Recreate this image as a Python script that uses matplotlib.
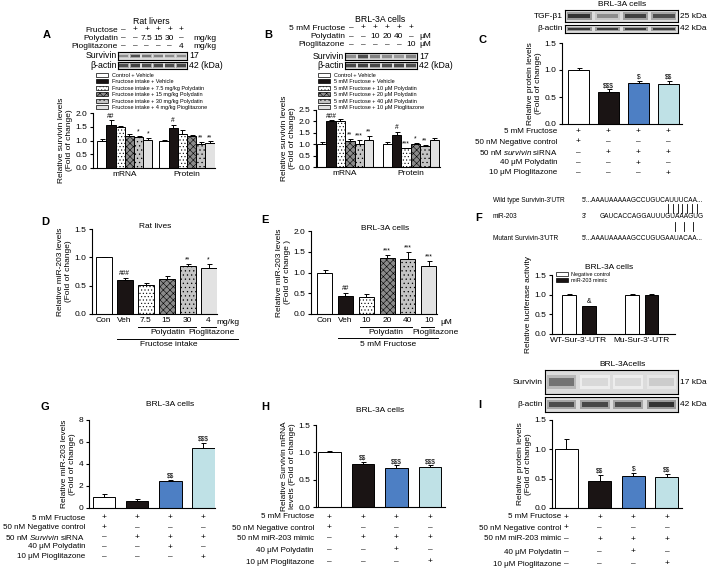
import matplotlib
matplotlib.use('Agg')
import matplotlib.pyplot as plt
from matplotlib.patches import Patch
from matplotlib.lines import Line2D
from matplotlib.transforms import blended_transform_factory

plt.rcParams['font.family'] = ['Liberation Sans', 'DejaVu Sans']
plt.rcParams['mathtext.fontset'] = 'custom'
plt.rcParams['mathtext.it'] = 'Liberation Sans:italic'
plt.rcParams['mathtext.rm'] = 'Liberation Sans'
plt.rcParams['hatch.linewidth'] = 0.4

W, H = 709, 569

# A - rat livers, survivin
a_groups = ['mRNA', 'Protein']
a_vals = [[1.0, 1.57, 1.48, 1.18, 1.13, 1.03], [1.0, 1.45, 1.22, 1.18, 0.88, 0.90]]
a_errs = [[0.05, 0.17, 0.04, 0.05, 0.04, 0.05], [0.02, 0.13, 0.18, 0.02, 0.08, 0.07]]
a_sigs = [['', '##', '', '', '*', '*'], ['', '#', '', '', '**', '**']]
a_legend = ['Control + Vehicle', 'Fructose intake + Vehicle',
            'Fructose intake + 7.5 mg/kg Polydatin', 'Fructose intake + 15 mg/kg Polydatin',
            'Fructose intake + 30 mg/kg Polydatin', 'Fructose intake + 4 mg/kg Pioglitazone']
a_header = [('Fructose', ['–', '+', '+', '+', '+', '+'], ''),
            ('Polydatin', ['–', '–', '7.5', '15', '30', '–'], 'mg/kg'),
            ('Pioglitazone', ['–', '–', '–', '–', '–', '4'], 'mg/kg')]
a_survivin_band = [0.45, 0.7, 0.55, 0.5, 0.45, 0.45]
a_actin_band = [0.7, 0.75, 0.7, 0.72, 0.7, 0.72]

# B - BRL-3A cells, survivin
b_vals = [[1.0, 2.0, 2.02, 1.15, 1.03, 1.2], [1.0, 1.42, 0.82, 1.0, 0.92, 1.18]]
b_errs = [[0.1, 0.05, 0.1, 0.08, 0.15, 0.18], [0.1, 0.12, 0.03, 0.05, 0.05, 0.07]]
b_sigs = [['', '###', '', '**', '***', '**'], ['', '#', '***', '*', '**', '']]
b_legend = ['Control + Vehicle', '5 mM Fructose + Vehicle', '5 mM Fructose + 10 μM Polydatin',
            '5 mM Fructose + 20 μM Polydatin', '5 mM Fructose + 40 μM Polydatin',
            '5 mM Fructose + 10 μM Pioglitazone']
b_header = [('5 mM Fructose', ['–', '+', '+', '+', '+', '+'], ''),
            ('Polydatin', ['–', '–', '10', '20', '40', '–'], 'μM'),
            ('Pioglitazone', ['–', '–', '–', '–', '–', '10'], 'μM')]
b_survivin_band = [0.45, 0.7, 0.5, 0.45, 0.4, 0.5]
b_actin_band = [0.72, 0.75, 0.72, 0.7, 0.72, 0.7]

# C - TGF-b1 protein
c_vals = [1.0, 0.59, 0.76, 0.74]
c_errs = [0.03, 0.05, 0.03, 0.06]
c_sigs = ['', '$$$', '$', '$$']
c_rows = ['5 mM Fructose', '50 nM Negative control', r'50 nM $\it{survivin}$ siRNA',
          '40 μM Polydatin', '10 μM Pioglitazone']
c_tgf_band = [0.8, 0.45, 0.75, 0.7]
c_actin_band = [0.8, 0.78, 0.8, 0.78]

# D - rat miR-203
d_labels = ['Con', 'Veh', '7.5', '15', '30', '4']
d_vals = [1.0, 0.6, 0.51, 0.62, 0.84, 0.82]
d_errs = [0.01, 0.04, 0.04, 0.05, 0.05, 0.07]
d_sigs = ['', '###', '', '', '**', '*']

# E - cells miR-203
e_labels = ['Con', 'Veh', '10', '20', '40', '10']
e_vals = [1.0, 0.44, 0.42, 1.35, 1.33, 1.15]
e_errs = [0.05, 0.07, 0.06, 0.07, 0.17, 0.13]
e_sigs = ['', '##', '', '***', '***', '***']

# F - luciferase
f_groups = ['WT-Sur-3\'-UTR', 'Mu-Sur-3\'-UTR']
f_legend = ['Negative control', 'miR-203 mimic']
f_vals = [[1.0, 0.71], [1.0, 1.0]]
f_errs = [[0.02, 0.01], [0.01, 0.01]]
f_sigs = [['', '&'], ['', '']]

# G, H, I
g_vals = [1.0, 0.65, 2.5, 5.5]
g_errs = [0.3, 0.2, 0.08, 0.45]
g_sigs = ['', '', '$$', '$$$']
g_rows = ['5 mM Fructose', '50 nM Negative control', r'50 nM $\it{Survivin}$ siRNA',
          '40 μM Polydatin', '10 μM Pioglitazone']
h_vals = [1.0, 0.79, 0.72, 0.74]
h_errs = [0.03, 0.03, 0.04, 0.02]
h_sigs = ['', '$$', '$$$', '$$$']
mimic_rows = ['5 mM Fructose', '50 nM Negative control', '50 nM miR-203 mimic',
              '40 μM Polydatin', '10 μM Pioglitazone']
i_vals = [1.0, 0.46, 0.55, 0.52]
i_errs = [0.17, 0.1, 0.04, 0.06]
i_sigs = ['', '$$', '$', '$$']
i_survivin_band = [0.55, 0.15, 0.15, 0.2]
i_actin_band = [0.7, 0.72, 0.7, 0.8]

treat_signs = [['+', '+', '+', '+'], ['+', '–', '–', '–'], ['–', '+', '+', '+'],
               ['–', '–', '+', '–'], ['–', '–', '–', '+']]

six_faces = ['white', '#1a1414', 'white', '#8a8a8a', '#c4c4c4', '#e2e2e2']
six_hatch = [None, None, '.....', 'xxxxx', '....', None]
four_faces = ['white', '#1a1414', '#4d7fc4', '#bfe1e6']

fig = plt.figure(figsize=(W / 100, H / 100), dpi=100)


def px_axes(x0, y0, x1, y1):
    return fig.add_axes([x0 / W, 1 - y1 / H, (x1 - x0) / W, (y1 - y0) / H])


def ftext(x, y, s, **kw):
    kw.setdefault('fontsize', 6)
    kw.setdefault('ha', 'center')
    kw.setdefault('va', 'center')
    fig.text(x / W, 1 - y / H, s, **kw)


def style_axes(ax, ymax, step, fmt, ylabel):
    for s in ('top', 'right'):
        ax.spines[s].set_visible(False)
    ax.spines['left'].set_linewidth(0.8)
    ax.spines['bottom'].set_linewidth(0.8)
    ax.set_ylim(0, ymax)
    ticks = [i * step for i in range(int(round(ymax / step)) + 1)]
    ax.set_yticks(ticks)
    ax.set_yticklabels([fmt.format(t) for t in ticks])
    ax.tick_params(axis='y', direction='out', length=2.5, width=0.8, labelsize=6, pad=1.5)
    ax.tick_params(axis='x', length=0, labelsize=6, pad=2)
    ax.set_ylabel(ylabel, fontsize=6, labelpad=2, linespacing=1.1)
    ax.patch.set_alpha(0)


def draw_bar(ax, x, v, e, sig, face, hatch=None, width=0.75):
    ax.bar(x, v, width=width, color=face, edgecolor='black', hatch=hatch, linewidth=0.7, zorder=2)
    ax.errorbar(x, v, yerr=[[0], [e]], fmt='none', ecolor='black', elinewidth=0.7,
                capsize=1.8, capthick=0.7, zorder=3)
    if sig:
        ax.annotate(sig.replace('$', r'\$'), (x, v + e), xytext=(0, 0.3), textcoords='offset points',
                    ha='center', va='bottom', fontsize=4.8)


def draw_blot(x0, y0, x1, y1, bands):
    ax = px_axes(x0, y0, x1, y1)
    ax.set_facecolor('#dcdcdc')
    ax.set_xlim(0, len(bands))
    ax.set_ylim(0, 1)
    for i, d in enumerate(bands):
        ax.bar(i + 0.5, 0.6, bottom=0.2, width=0.88, color=str(round(1 - d * 0.5, 2)), linewidth=0)
        ax.bar(i + 0.5, 0.36, bottom=0.32, width=0.76, color=str(round(1 - d, 2)), linewidth=0)
    ax.set_xticks([])
    ax.set_yticks([])
    for s in ax.spines.values():
        s.set_linewidth(0.8)
    return ax


def draw_header(blot_ax, header, ys, label_x, unit_x):
    tr = blended_transform_factory(blot_ax.transData, fig.transFigure)
    for (lab, marks, unit), y in zip(header, ys):
        ftext(label_x, y, lab, ha='right', fontsize=6)
        for i, m in enumerate(marks):
            blot_ax.text(i + 0.5, 1 - y / H, m, transform=tr, ha='center', va='center',
                         fontsize=6, clip_on=False)
        if unit:
            ftext(unit_x, y, unit, ha='left', fontsize=6)


def draw_table(ax, rows, ys, label_x):
    tr = blended_transform_factory(ax.transData, fig.transFigure)
    for r, (lab, y) in enumerate(zip(rows, ys)):
        ftext(label_x, y, lab, ha='right', fontsize=5.8)
        for i, s in enumerate(treat_signs[r]):
            ax.text(i, 1 - y / H, s, transform=tr, ha='center', va='center', fontsize=6, clip_on=False)


def bar_legend(labels, faces, hatches, x, y, fs):
    handles = [Patch(facecolor=f, edgecolor='black', hatch=h, linewidth=0.5) for f, h in zip(faces, hatches)]
    fig.legend(handles, labels, loc='upper left', bbox_to_anchor=(x / W, 1 - y / H), fontsize=fs,
               frameon=False, handlelength=2.2, handleheight=0.75, labelspacing=0.25,
               handletextpad=0.6, borderpad=0, borderaxespad=0)


def grouped_panel(ax, vals, errs, sigs, gap, groups):
    for g in range(len(vals)):
        for i in range(len(vals[g])):
            draw_bar(ax, g * gap + i + 0.5, vals[g][i], errs[g][i], sigs[g][i],
                     six_faces[i], six_hatch[i], width=1.0)
    ax.set_xticks([g * gap + 3 for g in range(len(groups))])
    ax.set_xticklabels(groups)


def four_panel(ax, vals, errs, sigs):
    for i in range(4):
        draw_bar(ax, i, vals[i], errs[i], sigs[i], four_faces[i], width=0.68)
    ax.set_xticks([])


def fig_line(ax, x0, x1, y):
    tr = blended_transform_factory(ax.transData, fig.transFigure)
    ax.add_line(Line2D([x0, x1], [1 - y / H] * 2, transform=tr, color='black', lw=0.7, clip_on=False))


def fig_label(ax, x, y, s, **kw):
    tr = blended_transform_factory(ax.transData, fig.transFigure)
    kw.setdefault('ha', 'center')
    ax.text(x, 1 - y / H, s, transform=tr, va='center', fontsize=6, clip_on=False, **kw)


# ---------- panel letters
for letter, (lx, ly) in zip('ABCDEFGHI', [(47, 35), (268, 35), (482, 40), (45, 222), (265, 220),
                                          (479, 218), (45, 407), (265, 407), (480, 405)]):
    ftext(lx, ly, letter, fontsize=8, fontweight='bold')

# ---------- A
ftext(151, 21, 'Rat livers', fontsize=6.3)
blotA = draw_blot(118, 52, 187, 60, a_survivin_band)
draw_blot(118, 62, 187, 69, a_actin_band)
draw_header(blotA, a_header, [30, 38, 46], 118, 193)
ftext(117, 56, 'Survivin', ha='right', fontsize=6.3)
ftext(117, 65.5, 'β-actin', ha='right', fontsize=6.3)
ftext(189, 56, '17', ha='left', fontsize=6.3)
ftext(189, 65.5, '42 (kDa)', ha='left', fontsize=6.3)
bar_legend(a_legend, six_faces, six_hatch, 96, 73, 4.0)
axA = px_axes(93, 113, 215, 168)
grouped_panel(axA, a_vals, a_errs, a_sigs, 6.75, a_groups)
axA.set_xlim(-0.45, 12.8)
style_axes(axA, 2.0, 0.5, '{:.1f}', 'Relative survivin levels\n(Fold of change)')

# ---------- B
ftext(380, 19, 'BRL-3A cells', fontsize=6.3)
blotB = draw_blot(345, 53, 417, 60, b_survivin_band)
draw_blot(345, 62, 417, 69, b_actin_band)
draw_header(blotB, b_header, [28, 36.5, 45], 345, 419)
ftext(344, 56.5, 'Survivin', ha='right', fontsize=6.3)
ftext(344, 65.5, 'β-actin', ha='right', fontsize=6.3)
ftext(419, 56.5, '17', ha='left', fontsize=6.3)
ftext(419, 65.5, '42 (kDa)', ha='left', fontsize=6.3)
bar_legend(b_legend, six_faces, six_hatch, 318, 73, 4.0)
axB = px_axes(316, 110, 440, 167)
grouped_panel(axB, b_vals, b_errs, b_sigs, 7, a_groups)
axB.set_xlim(-0.1, 13.1)
style_axes(axB, 2.5, 0.5, '{:.1f}', 'Relative survivin levels\n(Fold of change)')

# ---------- C
ftext(622, 4, 'BRL-3A cells')
draw_blot(565, 10, 678, 22, c_tgf_band)
draw_blot(565, 25, 678, 33, c_actin_band)
ftext(563, 16, 'TGF-β1', ha='right')
ftext(563, 29, 'β-actin', ha='right')
ftext(680, 16, '25 kDa', ha='left')
ftext(680, 29, '42 kDa', ha='left')
axC = px_axes(562, 43, 682, 124)
four_panel(axC, c_vals, c_errs, c_sigs)
axC.set_xlim(-0.55, 3.45)
style_axes(axC, 1.5, 0.5, '{:.1f}', 'Relative protein levels\n(Fold of change)')
draw_table(axC, c_rows, [131.5, 142, 152.5, 163, 173], 557)

# ---------- D
ftext(155, 227, 'Rat lives')
axD = px_axes(92, 229, 217, 314)
for i in range(6):
    draw_bar(axD, i, d_vals[i], d_errs[i], d_sigs[i], six_faces[i], six_hatch[i], width=0.76)
axD.set_xlim(-0.55, 5.4)
axD.set_xticks(range(6))
axD.set_xticklabels(d_labels)
style_axes(axD, 1.5, 0.5, '{:.1f}', 'Relative miR-203 levels\n(Fold of change)')
fig_label(axD, 5.93, 322, 'mg/kg')
fig_line(axD, 1.62, 4.4, 327)
fig_line(axD, 4.64, 5.35, 327)
fig_label(axD, 3.05, 333, 'Polydatin')
fig_label(axD, 5.15, 333, 'Pioglitazone')
fig_line(axD, 0.62, 6.4, 339)
fig_label(axD, 3.1, 345, 'Fructose intake')

# ---------- E
ftext(385, 229, 'BRL-3A cells')
axE = px_axes(311, 231, 437, 314)
for i in range(6):
    draw_bar(axE, i, e_vals[i], e_errs[i], e_sigs[i], six_faces[i], six_hatch[i], width=0.72)
axE.set_xlim(-0.65, 5.4)
axE.set_xticks(range(6))
axE.set_xticklabels(e_labels)
style_axes(axE, 2.0, 0.5, '{:.1f}', 'Relative miR-203 levels\n(Fold of change )')
fig_label(axE, 5.84, 322, 'μM')
fig_line(axE, 1.71, 4.2, 327)
fig_line(axE, 4.61, 5.24, 327)
fig_label(axE, 2.95, 332.5, 'Polydatin')
fig_label(axE, 5.34, 332.5, 'Pioglitazone')
fig_line(axE, 0.65, 5.43, 338)
fig_label(axE, 3.07, 344, '5 mM Fructose')

# ---------- F sequences
seq_fs = 4.7
ftext(493, 200, 'Wild type Survivin-3\'UTR', ha='left', fontsize=seq_fs)
ftext(582, 200, '5\'...AAAUAAAAAGCCUGUCAUUUCAA...', ha='left', fontsize=seq_fs)
ftext(493, 217, 'miR-203', ha='left', fontsize=seq_fs)
ftext(582, 217, '3\'', ha='left', fontsize=seq_fs)
ftext(600, 217, 'GAUCACCAGGAUUUGUAAAGUG', ha='left', fontsize=seq_fs)
ftext(493, 238, 'Mutant Survivin-3\'UTR', ha='left', fontsize=seq_fs)
ftext(582, 238, '5\'...AAAUAAAAAGCCUGUGAAUACAA...', ha='left', fontsize=seq_fs)
for k in range(7):
    xx = (668 + k * 4.8) / W
    fig.add_artist(Line2D([xx, xx], [1 - 204 / H, 1 - 213 / H], color='black', lw=0.6))
for xk in (675, 684, 693):
    fig.add_artist(Line2D([xk / W, xk / W], [1 - 222 / H, 1 - 231 / H], color='black', lw=0.6))

# ---------- F luciferase
ftext(609, 267, 'BRL-3A cells')
axF = px_axes(552, 275, 675, 334)
for g, gx in enumerate([0.5, 3.7]):
    for i in range(2):
        draw_bar(axF, gx + (i - 0.5), f_vals[g][i], f_errs[g][i], f_sigs[g][i],
                 four_faces[i], width=0.7)
axF.set_xlim(-0.87, 5.4)
axF.set_xticks([0.5, 3.7])
axF.set_xticklabels(f_groups)
style_axes(axF, 1.5, 0.5, '{:.1f}', 'Relative luciferase activity')
bar_legend(f_legend, four_faces[:2], [None, None], 556, 272, 3.9)

# ---------- G
ftext(170, 405, 'BRL-3A cells')
axG = px_axes(89, 420, 215, 508)
four_panel(axG, g_vals, g_errs, g_sigs)
axG.set_xlim(-0.45, 3.35)
style_axes(axG, 8, 2, '{:.0f}', 'Relative miR-203 levels\n(Fold of change)')
draw_table(axG, g_rows, [518, 527.5, 537, 547, 557], 85)

# ---------- H
ftext(380, 410, 'BRL-3A cells')
axH = px_axes(316, 425, 445, 507)
four_panel(axH, h_vals, h_errs, h_sigs)
axH.set_xlim(-0.4, 3.45)
style_axes(axH, 1.5, 0.5, '{:.1f}', 'Relative Survivin mRNA\nlevels (Fold of change)')
draw_table(axH, mimic_rows, [517, 528, 538, 550, 562], 314)

# ---------- I
ftext(622, 364, 'BRL-3Acells')
draw_blot(545, 370, 678, 394, i_survivin_band)
draw_blot(545, 397, 678, 412, i_actin_band)
ftext(543, 382, 'Survivin', ha='right')
ftext(543, 404.5, 'β-actin', ha='right')
ftext(680, 382, '17 kDa', ha='left')
ftext(680, 404.5, '42 kDa', ha='left')
axI = px_axes(552, 420, 682, 508)
four_panel(axI, i_vals, i_errs, i_sigs)
axI.set_xlim(-0.42, 3.45)
style_axes(axI, 1.5, 0.5, '{:.1f}', 'Relative protein levels\n(Fold of change)')
draw_table(axI, mimic_rows, [517, 528, 539, 552, 564], 561)

fig.savefig('out.png', dpi=100)
